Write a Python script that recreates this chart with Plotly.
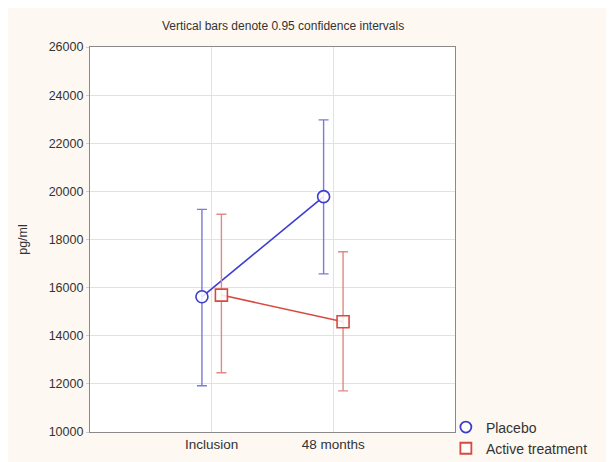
import plotly.graph_objects as go

categories = ["Inclusion", "48 months"]
placebo_mean = [15620, 19780]
placebo_upper = [19250, 22970]
placebo_lower = [11920, 16570]
active_mean = [15690, 14580]
active_upper = [19050, 17490]
active_lower = [12460, 11710]
y_ticks = [10000, 12000, 14000, 16000, 18000, 20000, 22000, 24000, 26000]

xpos = list(range(len(categories)))
off = 0.08

fig = go.Figure()

def add_series(name, mean, upper, lower, shift, color, ecolor, symbol):
    fig.add_trace(go.Scatter(
        x=[p + shift for p in xpos], y=mean, name=name,
        mode="lines+markers", showlegend=False,
        line=dict(color=color, width=1.6),
        marker=dict(symbol=symbol, size=12, color="rgba(255,255,255,0.85)",
                    line=dict(color=color, width=1.6)),
        error_y=dict(type="data", symmetric=False,
                     array=[u - m for u, m in zip(upper, mean)],
                     arrayminus=[m - l for m, l in zip(mean, lower)],
                     color=ecolor, thickness=1.4, width=5),
    ))
    fig.add_trace(go.Scatter(
        x=[None], y=[None], name=name, mode="markers",
        marker=dict(symbol=symbol, size=11, color="rgba(255,255,255,0.85)",
                    line=dict(color=color, width=1.8)),
    ))

add_series("Placebo", placebo_mean, placebo_upper, placebo_lower, -off,
           "#3c3cd0", "#7a7ad8", "circle")
add_series("Active treatment", active_mean, active_upper, active_lower, off,
           "#d84a40", "#e08a84", "square")

fig.update_layout(
    width=614, height=462,
    paper_bgcolor="#fdf8f1", plot_bgcolor="#ffffff",
    margin=dict(l=82, r=167, t=39, b=38, autoexpand=False),
    font=dict(family="Liberation Sans, Arial, sans-serif", size=12, color="#333333"),
    showlegend=True,
    legend=dict(x=0.975, y=0.012, yref="container", xanchor="left", yanchor="bottom",
                bgcolor="rgba(0,0,0,0)", font=dict(size=14, color="#333333"),
                tracegroupgap=0),
    annotations=[dict(text="Vertical bars denote 0.95 confidence intervals",
                      xref="paper", yref="paper", x=0.53, y=1.0, yshift=12,
                      xanchor="center", yanchor="bottom", showarrow=False,
                      font=dict(size=12, color="#333333"))],
)

fig.update_xaxes(
    range=[-1, 2], tickvals=xpos, ticktext=categories,
    tickfont=dict(size=13.5),
    showgrid=True, gridcolor="#e2e2e2", gridwidth=1,
    showline=True, linecolor="#8a8a8a", linewidth=1.2, mirror=True,
    zeroline=False, ticks="", automargin=False,
)
fig.update_yaxes(
    range=[10000, 26000], tickvals=y_ticks, tickformat="d",
    tickfont=dict(size=12.5),
    showgrid=True, gridcolor="#e2e2e2", gridwidth=1,
    showline=True, linecolor="#8a8a8a", linewidth=1.2, mirror=True,
    zeroline=False, ticks="outside", ticklen=3, tickcolor="#cccccc",
    automargin=False,
    title=dict(text="pg/ml", standoff=18, font=dict(size=12.5)),
)

fig.write_html("out.html")
